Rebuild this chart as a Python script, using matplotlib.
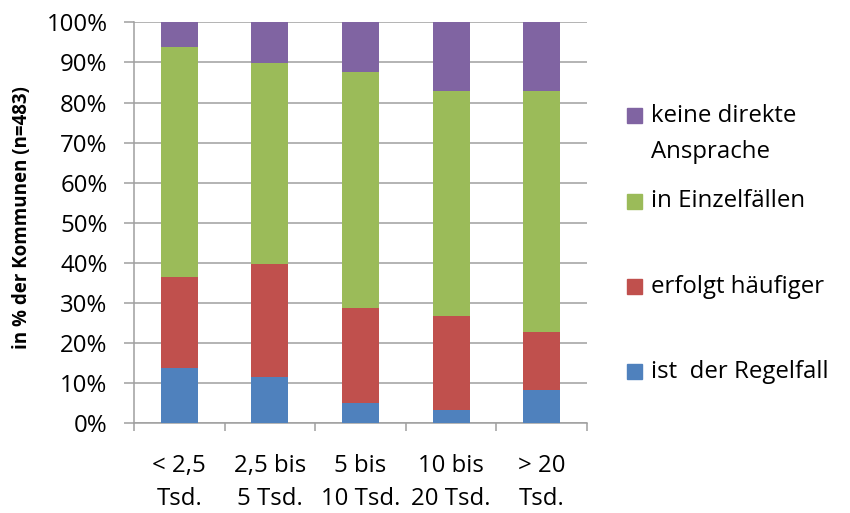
import matplotlib
matplotlib.use("Agg")
import matplotlib.pyplot as plt
from matplotlib.patches import Rectangle
import numpy as np

plt.rcParams['font.family'] = ['Open Sans', 'DejaVu Sans']

categories = ["< 2,5\nTsd.", "2,5 bis\n5 Tsd.", "5 bis\n10 Tsd.", "10 bis\n20 Tsd.", "> 20\nTsd."]
series_names = ["ist  der Regelfall", "erfolgt häufiger", "in Einzelfällen", "keine direkte\nAnsprache"]
regelfall = [13.7, 11.5, 5.0, 3.2, 8.2]
haeufiger = [22.8, 28.1, 23.8, 23.6, 14.6]
einzelfaelle = [57.4, 50.2, 58.7, 56.1, 60.1]
keine = [6.1, 10.2, 12.5, 17.1, 17.1]
colors = ["#4F81BD", "#C0504D", "#9BBB59", "#8064A2"]
yticks = [0, 10, 20, 30, 40, 50, 60, 70, 80, 90, 100]
ylabel = "in % der Kommunen (n=483)"

FS = 17.3

fig = plt.figure(figsize=(8.5, 5.13), dpi=100)
ax = fig.add_axes([0.1576, 0.1749, 0.5330, 0.7816])

x = np.arange(len(categories))
bottom = np.zeros(len(categories))
for vals, c in zip([regelfall, haeufiger, einzelfaelle, keine], colors):
    ax.bar(x, vals, width=0.41, bottom=bottom, color=c, zorder=3, linewidth=0)
    bottom += np.array(vals)

grid_c = "#9f9f9f"
ax.set_ylim(0, 100)
ax.set_xlim(-0.5, len(categories) - 0.5)
ax.set_yticks(yticks)
ax.set_yticklabels([f"{t}%" for t in yticks], fontsize=FS)
ax.yaxis.grid(True, color=grid_c, linewidth=1.1, zorder=0)
ax.set_axisbelow(True)

ax.set_xticks(x)
ax.set_xticklabels(categories, fontsize=FS, linespacing=1.5)
ax.set_xticks(np.arange(-0.5, len(categories)), minor=True)
ax.tick_params(axis='x', which='major', length=0, pad=22)
ax.tick_params(axis='x', which='minor', length=6, color=grid_c, width=1.1)
ax.tick_params(axis='y', length=7, color=grid_c, width=1.1, pad=12)

for s in ['top', 'right']:
    ax.spines[s].set_visible(False)
for s in ['left', 'bottom']:
    ax.spines[s].set_color(grid_c)
    ax.spines[s].set_linewidth(1.1)

fig.text(0.026, 0.575, ylabel, rotation=90, ha='center', va='center',
         fontsize=13.5, fontweight='bold')

# legend (top to bottom: reverse order)
leg_y = [115.7, 201, 286.7, 371.7]
for name, c, yy in zip(series_names[::-1], colors[::-1], leg_y):
    fy = 1 - yy / 513
    fig.patches.append(Rectangle((627 / 850, fy - 7.5 / 513), 15 / 850, 15 / 513,
                                 transform=fig.transFigure, color=c))
    lines = name.split("\n")
    for i, ln in enumerate(lines):
        fig.text(651 / 850, 1 - (yy + i * 36.5) / 513, ln, ha='left', va='center',
                 fontsize=FS)

fig.savefig("out.png", dpi=100)
